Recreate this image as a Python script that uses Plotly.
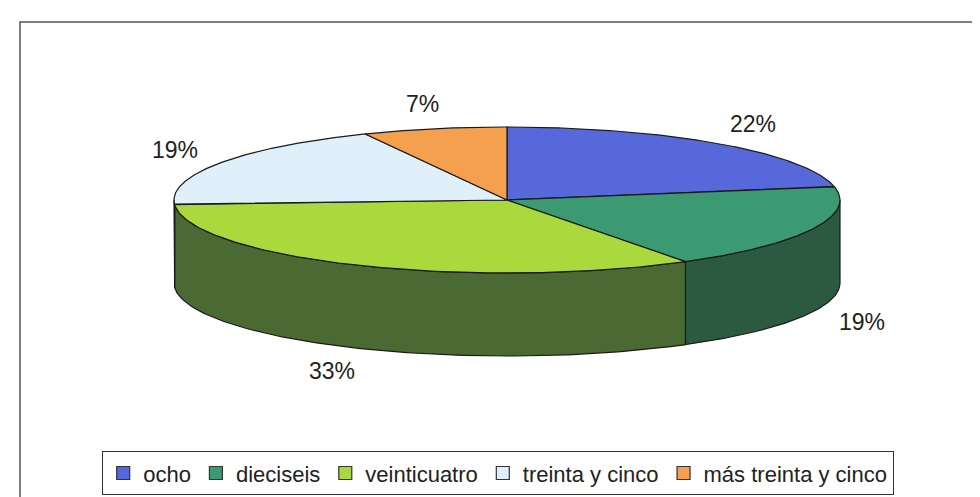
import numpy as np
import plotly.graph_objects as go

# ---- data ----
categories = ["ocho", "dieciseis", "veinticuatro", "treinta y cinco", "más treinta y cinco"]
values = [22, 19, 33, 19, 7]
pct_labels = ["22%", "19%", "33%", "19%", "7%"]

top_colors = ["#5769da", "#3c9a72", "#a9d93c", "#dff0fa", "#f5a04f"]
side_colors = ["#34408a", "#2b5a40", "#4b6a33", "#9fb0bb", "#a86a30"]

# ---- geometry (pixels) ----
W, H = 980, 497
cx, cy = 499, 192
rx, ry = 333, 73
depth = 83
FONT = "Liberation Sans, Arial, sans-serif"


def pt(theta_deg, dy=0.0):
    t = np.radians(theta_deg)
    return cx + rx * np.cos(t), cy - ry * np.sin(t) + dy


total = float(sum(values))
cum = np.concatenate([[0.0], np.cumsum(values)]) / total
starts = 90 - 360 * cum[:-1]
ends = 90 - 360 * cum[1:]

fig = go.Figure()

# sides (front half: angles in (-180, 0))
for i in range(len(values)):
    a0, a1 = starts[i], ends[i]
    s = min(a0, 0.0)
    e = max(a1, -180.0)
    if s <= e:
        continue
    th = np.linspace(s, e, 120)
    xt, yt = pt(th)
    xb, yb = pt(th[::-1], depth)
    fig.add_trace(go.Scatter(
        x=np.concatenate([xt, xb, [xt[0]]]),
        y=np.concatenate([yt, yb, [yt[0]]]),
        mode="lines", fill="toself", fillcolor=side_colors[i],
        line=dict(color="#1a1a1a", width=1.2), hoverinfo="skip", showlegend=False))

# tops
for i in range(len(values)):
    th = np.linspace(starts[i], ends[i], 160)
    xa, ya = pt(th)
    fig.add_trace(go.Scatter(
        x=np.concatenate([[cx], xa, [cx]]),
        y=np.concatenate([[cy], ya, [cy]]),
        mode="lines", fill="toself", fillcolor=top_colors[i],
        line=dict(color="#1a1a1a", width=1.2),
        name=categories[i], hoverinfo="name", showlegend=False))

# legend entries
for i in range(len(values)):
    fig.add_trace(go.Scatter(
        x=[None], y=[None], mode="markers", name=categories[i],
        marker=dict(symbol="square", size=13, color=top_colors[i],
                    line=dict(color="#333333", width=1.2)),
        showlegend=True))

# percentage labels
kx, ky = 1.16, 1.35
annotations = []
for i in range(len(values)):
    m = np.radians((starts[i] + ends[i]) / 2)
    lx = cx + kx * rx * np.cos(m)
    ly = cy - ky * ry * np.sin(m) + (depth if np.sin(m) < 0 else 0)
    annotations.append(dict(x=lx, y=ly, xref="x", yref="y", text=pct_labels[i],
                            showarrow=False, font=dict(family=FONT, size=23, color="#222222"),
                            xanchor="center", yanchor="middle"))

fig.update_layout(
    width=W, height=H,
    margin=dict(l=0, r=0, t=0, b=0),
    paper_bgcolor="white", plot_bgcolor="white",
    xaxis=dict(range=[0, W], visible=False, fixedrange=True),
    yaxis=dict(range=[H, 0], visible=False, fixedrange=True),
    annotations=annotations,
    showlegend=True,
    legend=dict(orientation="h", x=0.5, xanchor="center", y=1 - 443 / H, yanchor="top",
                bordercolor="#333333", borderwidth=1.2, bgcolor="white",
                font=dict(family=FONT, size=22, color="#222222"),
                itemwidth=30, tracegroupgap=0),
    shapes=[dict(type="rect", xref="paper", yref="paper",
                 x0=12 / W, y0=-0.02, x1=1.02, y1=1 - 14 / H,
                 line=dict(color="#555555", width=1.5))],
)

fig.write_html("out.html")
